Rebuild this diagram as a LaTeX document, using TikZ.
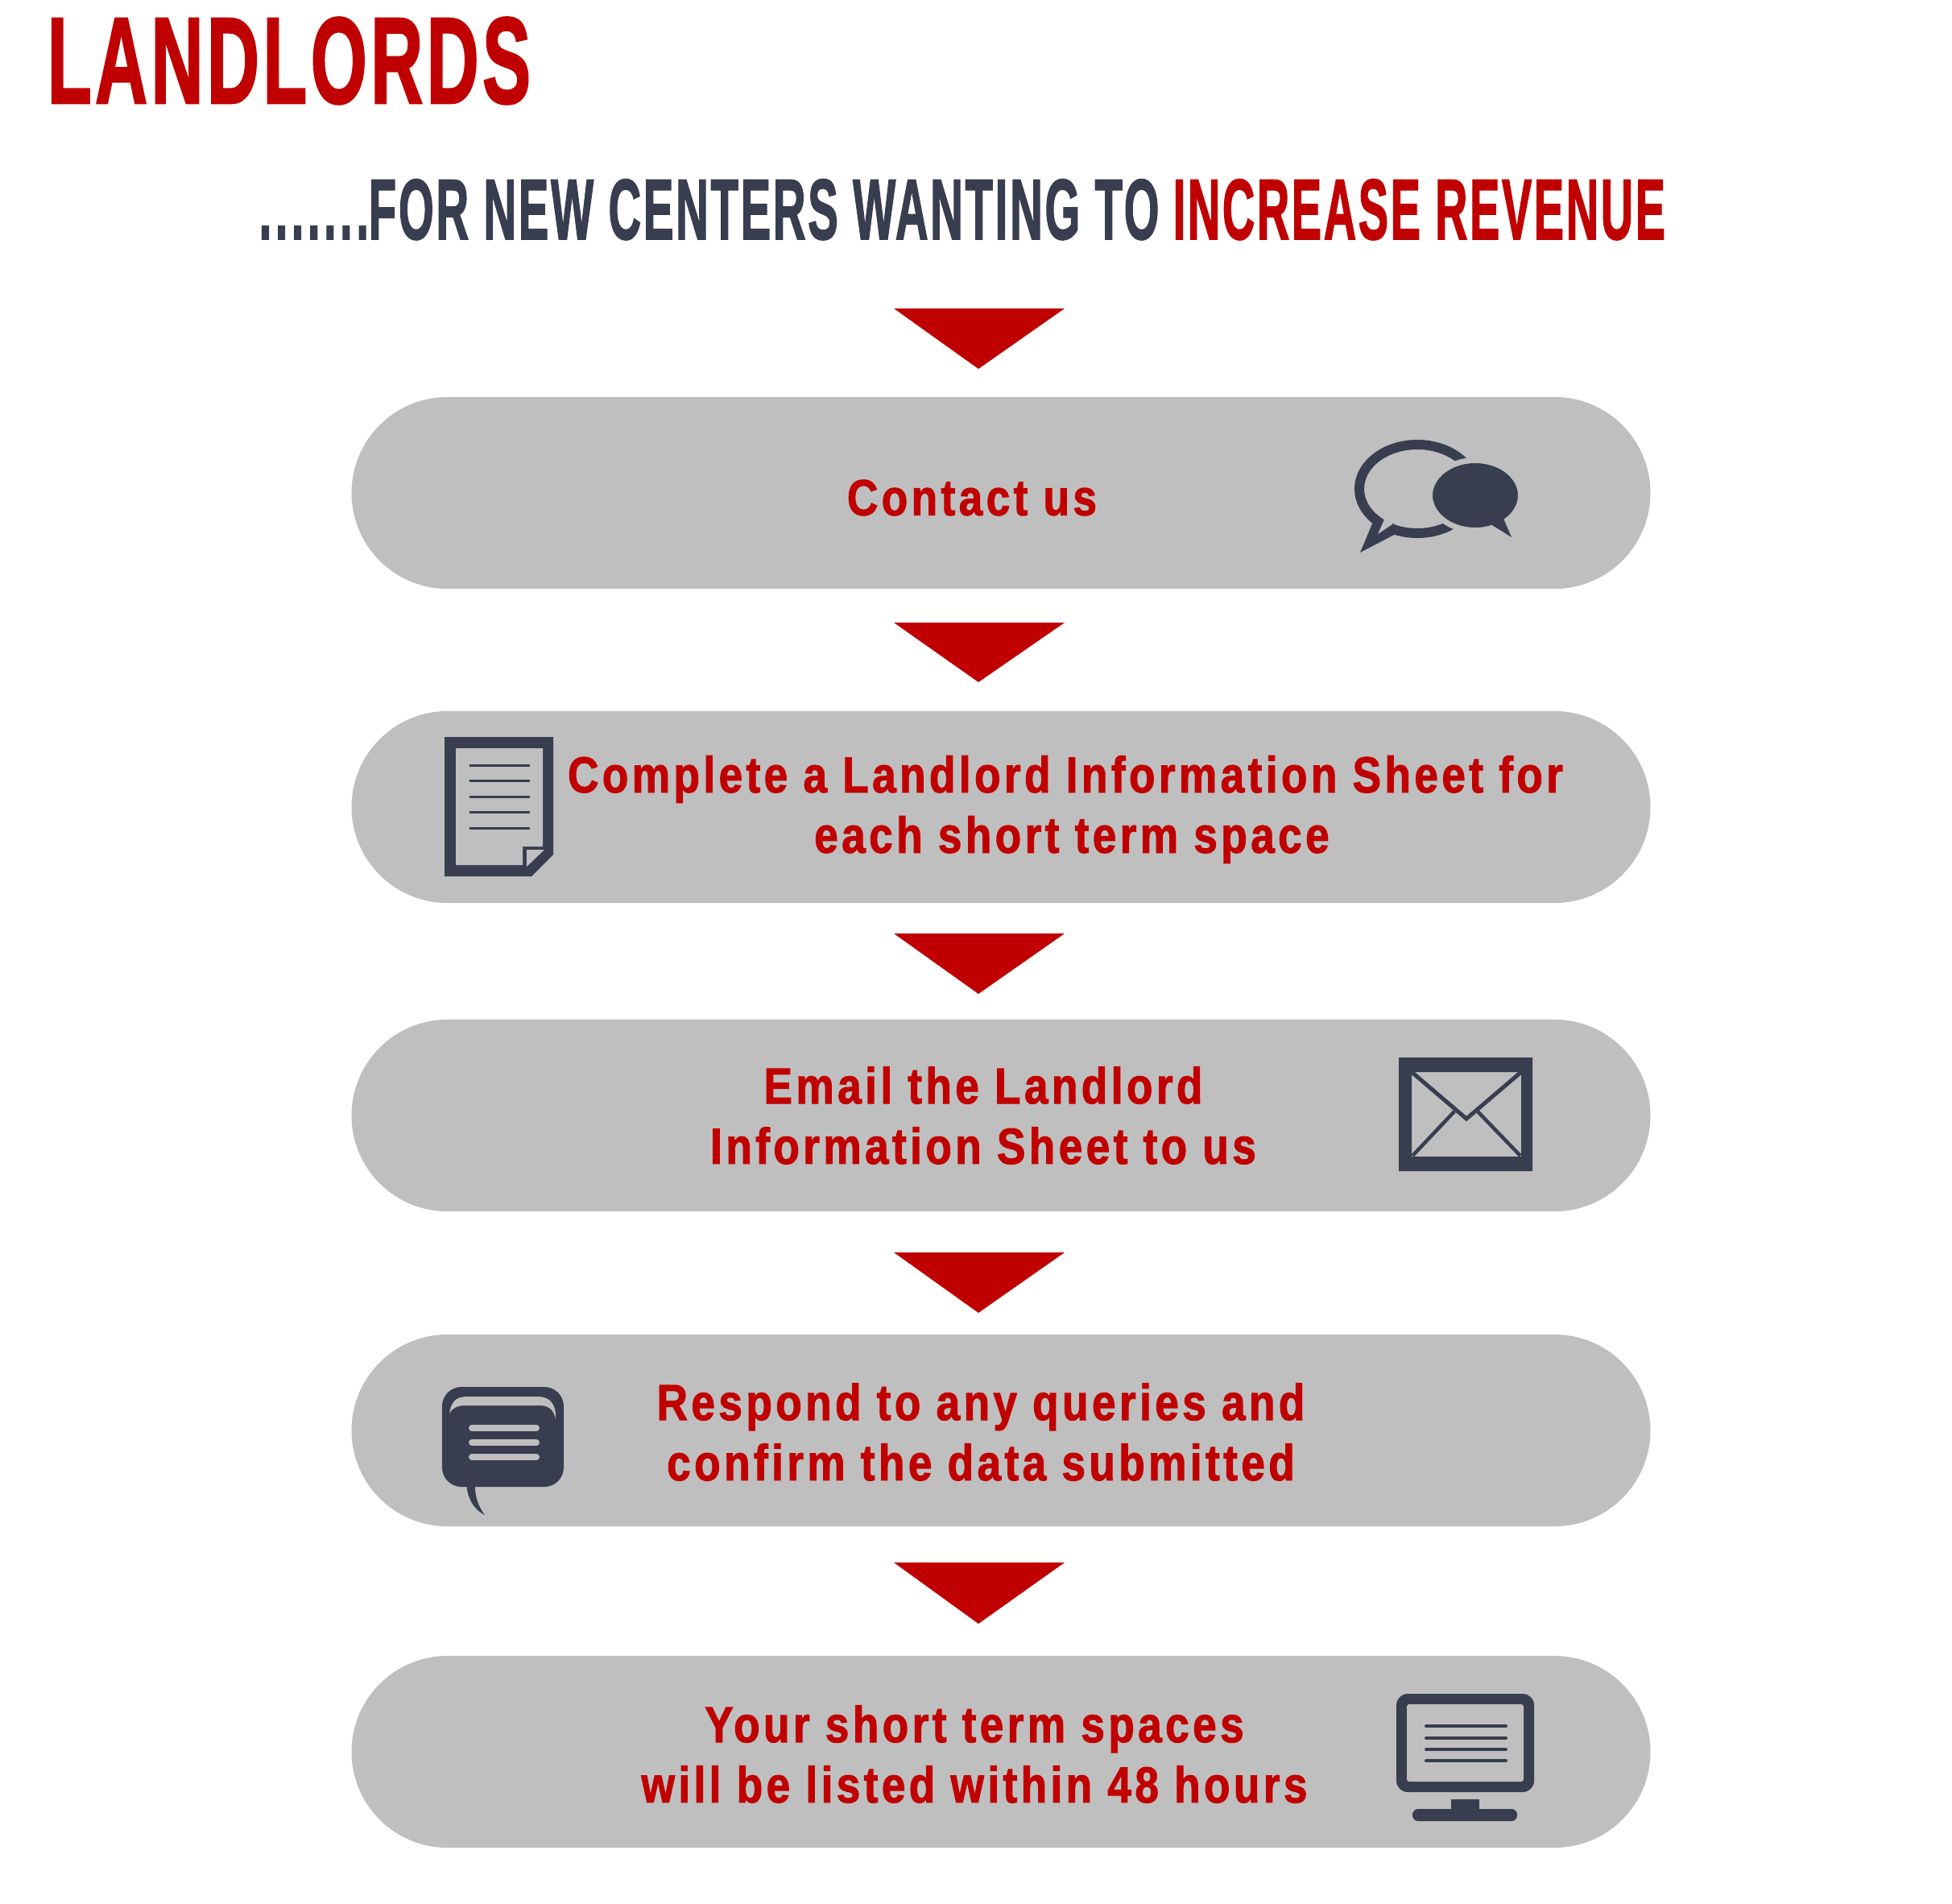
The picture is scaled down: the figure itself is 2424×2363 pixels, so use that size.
\documentclass[tikz,border=0pt]{standalone}
\usepackage{graphicx}
\usepackage{fontspec}
\usepackage{xcolor}
\usepackage{tikz}
\usetikzlibrary{positioning}
\newfontfamily\headfont[FakeBold=2,LetterSpace=5]{Liberation Sans Bold}
\newfontfamily\stepfont[LetterSpace=7,FakeBold=1.6,FakeStretch=0.845]{Liberation Sans Bold}
\definecolor{landred}{HTML}{C00000}
\definecolor{landdark}{HTML}{383D4F}
\definecolor{landgray}{HTML}{BFBFBF}

\begin{document}
\begin{tikzpicture}
    [
    x=0.01cm,y=-0.01cm,
    pill/.style={rectangle,fill=landgray,inner sep=0pt,minimum width=16.12cm,minimum height=2.38cm,rounded corners=11.9mm},
    steplabel/.style={text=landred,align=center,inner sep=0pt,font=\stepfont\fontsize{17.9}{21.3}\selectfont},
    headline/.style={inner sep=0pt,anchor=north west},
    tip/.style={fill=landred},
    dark/.style={fill=landdark},
    gap/.style={fill=landgray},
    rule/.style={draw=landdark,line width=0.3mm},
    ]
    \useasboundingbox (0,0) rectangle (2424,2363);

    \node (title) at (58,21) [headline,text=landred] {\resizebox{6.0cm}{1.06cm}{\headfont LANDLORDS}};
    \node (sub) at (321,222) [headline,text=landdark] {\resizebox{11.17cm}{0.74cm}{\headfont{\addfontfeature{LetterSpace=8}.......}FOR NEW CENTERS WANTING TO}};
    \node (subred) at (1456,222) [headline,text=landred] {\resizebox{6.11cm}{0.74cm}{\headfont INCREASE REVENUE}};

    \fill [tip] (1110,383) -- (1322,383) -- (1215,458) -- cycle;
    \fill [tip] (1110,773) -- (1322,773) -- (1215,847) -- cycle;
    \fill [tip] (1110,1159) -- (1322,1159) -- (1215,1234) -- cycle;
    \fill [tip] (1110,1555) -- (1322,1555) -- (1215,1630) -- cycle;
    \fill [tip] (1110,1940) -- (1322,1940) -- (1215,2016) -- cycle;

    \node (contact) at (1243,612) [pill] {};
    \node (sheet) at (1243,1002) [pill] {};
    \node (email) at (1243,1385) [pill] {};
    \node (respond) at (1243,1776) [pill] {};
    \node (listed) at (1243,2175) [pill] {};

    \node (contacttext) at (1207,618) [steplabel] {Contact us};
    \node (sheettext) at (1323,1005) [steplabel] {Complete a Landlord Information Sheet for\\\hspace*{0.16cm}each short term space};
    \node (emailtext) at (1221,1385) [steplabel] {Email the Landlord\\Information Sheet to us};
    \node (respondtext) at (1218,1778) [steplabel] {Respond to any queries and\\confirm the data submitted};
    \node (listedtext) at (1210,2178) [steplabel] {Your short term spaces\\will be listed within 48 hours};

    \draw [draw=landdark,line width=1.2mm] (1760,607) ellipse (72 and 55);
    \fill [dark] (1705,648) -- (1689,686) -- (1733,663) -- (1731,650) -- cycle;
    \fill [gap] (1719,645) -- (1711,663) -- (1729,651) -- (1735,640) -- cycle;
    \fill [dark,draw=landgray,line width=0.7mm] (1832,615) ellipse (56.5 and 43.5);
    \fill [dark] (1867,644) -- (1877,667) -- (1853,652) -- (1845,640) -- cycle;

    \fill [dark] (552,915) -- (687,915) -- (687,1061) -- (660,1088) -- (552,1088) -- cycle;
    \fill [gap] (566,929) -- (674,929) -- (674,1051) -- (649,1051) -- (649,1074) -- (566,1074) -- cycle;
    \fill [gap] (654,1076) -- (654,1055) -- (676,1055) -- cycle;
    \draw [rule] (583,950) -- (658,950);
    \draw [rule] (583,969) -- (658,969);
    \draw [rule] (583,989) -- (658,989);
    \draw [rule] (583,1008) -- (658,1008);
    \draw [rule] (583,1028) -- (658,1028);

    \fill [dark,even odd rule] (1737,1313) rectangle (1903,1454) (1753,1331) rectangle (1889,1436);
    \draw [rule,line width=0.5mm] (1753,1331) -- (1821,1389) -- (1889,1331);
    \draw [rule,line width=0.45mm] (1806,1380) -- (1754,1435);
    \draw [rule,line width=0.45mm] (1835,1380) -- (1888,1435);

    \fill [dark,rounded corners=2.4mm] (549,1722) rectangle (700,1846);
    \fill [dark] (579,1840) .. controls (580,1860) and (588,1874) .. (602,1881) .. controls (594,1870) and (589,1858) .. (590,1840) -- cycle;
    \fill [gap] (558,1755) .. controls (560,1742) and (565,1734) .. (580,1734) -- (668,1734) .. controls (684,1734) and (691,1745) .. (690,1762) .. controls (688,1752) and (683,1745) .. (670,1745) -- (578,1745) .. controls (568,1745) and (562,1748) .. (558,1755) -- cycle;
    \draw [draw=landgray,line width=0.8mm,line cap=round] (586,1773) -- (666,1773);
    \draw [draw=landgray,line width=0.8mm,line cap=round] (586,1791) -- (666,1791);
    \draw [draw=landgray,line width=0.8mm,line cap=round] (586,1809) -- (666,1809);

    \fill [dark,rounded corners=1.4mm] (1734,2103) rectangle (1905,2225);
    \fill [gap,rounded corners=0.3mm] (1747,2116) rectangle (1892,2212);
    \draw [rule,line width=0.4mm,line cap=round] (1771,2143) -- (1870,2143);
    \draw [rule,line width=0.4mm,line cap=round] (1771,2158) -- (1870,2158);
    \draw [rule,line width=0.4mm,line cap=round] (1771,2172) -- (1870,2172);
    \draw [rule,line width=0.4mm,line cap=round] (1771,2186) -- (1870,2186);
    \fill [dark] (1802,2234) rectangle (1837,2250);
    \fill [dark,rounded corners=0.7mm] (1754,2246) rectangle (1884,2261);
  \end{tikzpicture}
\end{document}
